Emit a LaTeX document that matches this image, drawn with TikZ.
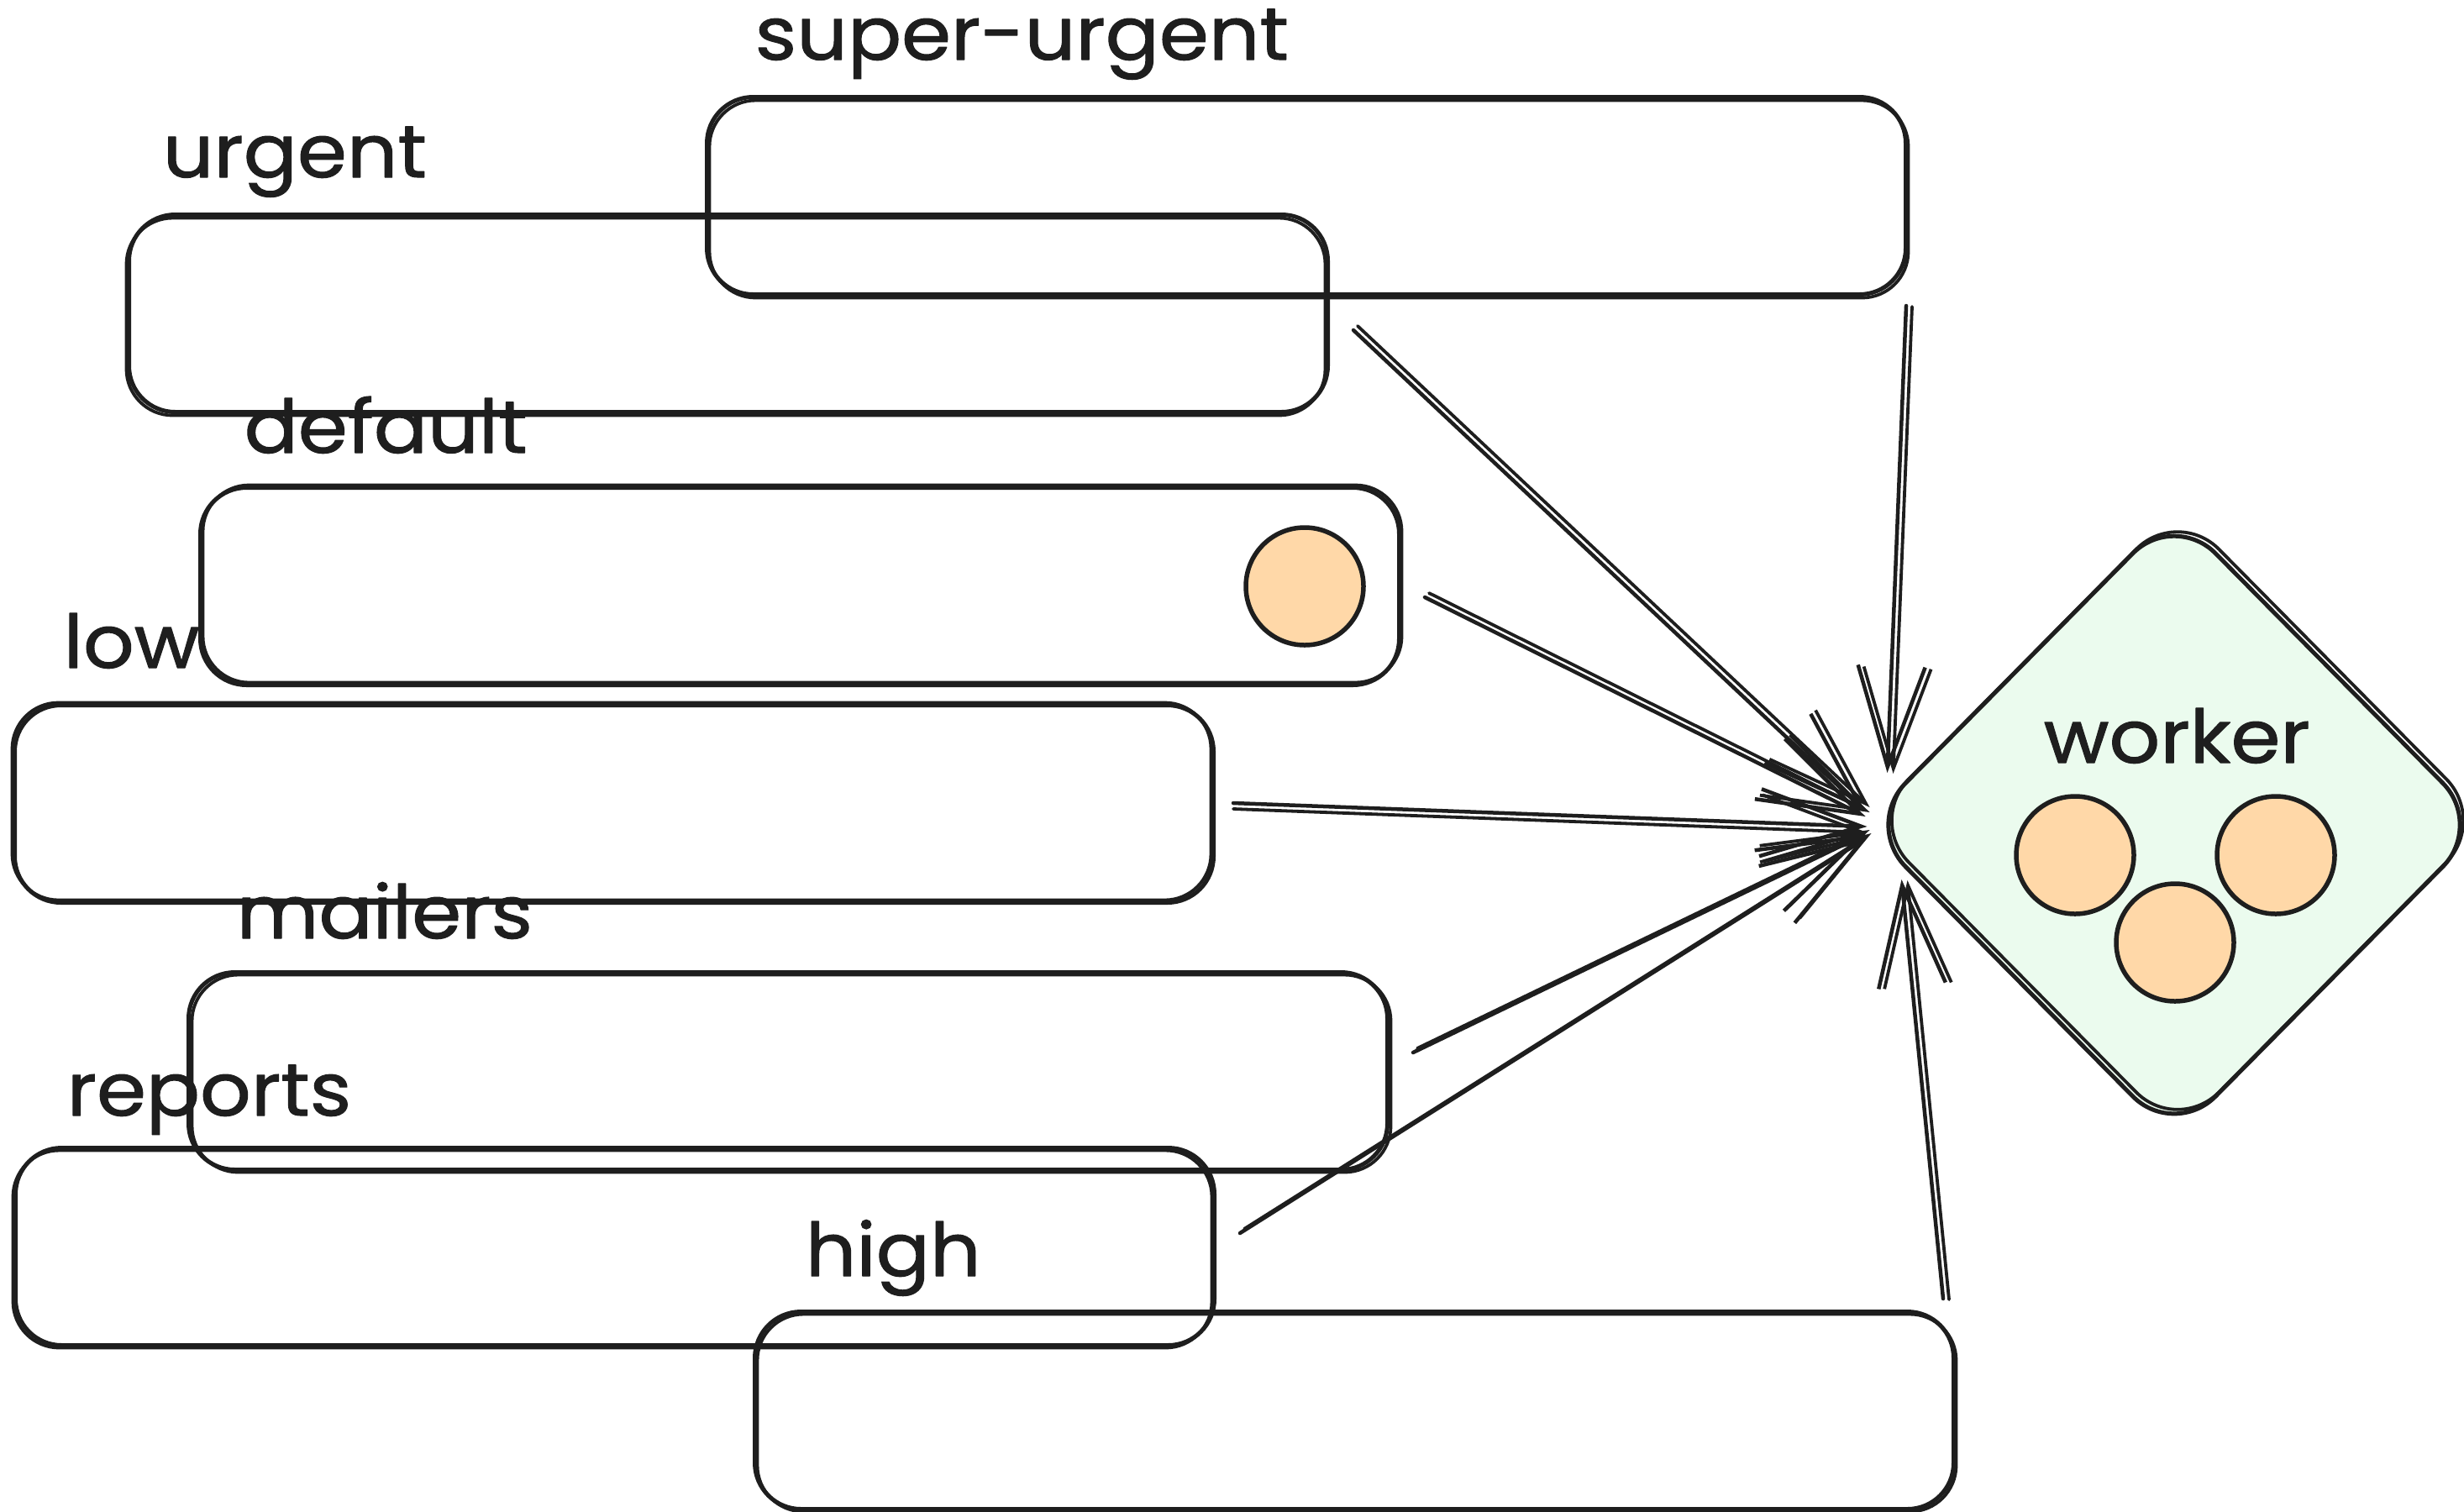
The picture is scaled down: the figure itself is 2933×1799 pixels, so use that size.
\documentclass[tikz,border=0pt]{standalone}
\usepackage{fontspec}
\newfontfamily\handfont{Poppins}[FakeStretch=1.08,FakeBold=1.2]
\usetikzlibrary{arrows.meta,shapes.geometric}
\definecolor{ink}{HTML}{1E1E1E}
\definecolor{mint}{HTML}{EBFBEE}
\definecolor{peach}{HTML}{FFD8A8}
\begin{document}
\begin{tikzpicture}[x=0.1mm,y=-0.1mm,
  line cap=round, line join=round,
  queue/.style={rectangle, draw=ink, line width=0.5mm, rounded corners=5.5mm,
    minimum width=142.7mm, minimum height=23.5mm, inner sep=0pt,
    postaction={draw=ink, line width=0.38mm, transform canvas={shift={(#1)}}}},
  queue/.default={3,4},
  qname/.style={font=\handfont\fontsize{25}{30}\selectfont, text=ink,
    anchor=base west, inner sep=0pt},
  job/.style={circle, draw=ink, fill=peach, line width=0.55mm,
    minimum size=14mm, inner sep=0pt},
  feed/.style={draw=ink, line width=0.45mm,
    -{Straight Barb[length=12mm,width=8mm]},
    postaction={draw=ink, line width=0.38mm, transform canvas={shift={(#1)}}}},
  feed/.default={5,-5},
]
\fill[white] (0,0) rectangle (2933,1799);
\useasboundingbox (0,0) rectangle (2933,1799);

% queues
\node[queue] (su) at (1555,233) {};
\node[queue={-3,4}] (urgent) at (867,373) {};
\node[queue={3,-3}] (default) at (952,698) {};
\node[queue={-3,-3}] (low) at (731,957) {};
\node[queue={4,3}] (mailers) at (938,1275) {};
\node[queue={-3,3}] (reports) at (732,1484) {};
\node[queue={3,3}] (high) at (1612,1679) {};

% queue names
\node[qname] (lsu) at (898,71) {super-urgent};
\node[qname] (lurgent) at (193,211) {urgent};
\node[qname] (ldefault) at (290,539) {default};
\node[qname] (llow) at (75,795) {low};
\node[qname] (lmailers) at (281,1117) {mailers};
\node[qname] (lreports) at (79,1328) {reports};
\node[qname] (lhigh) at (958,1519) {high};

% waiting job
\node[job] (j0) at (1553,698) {};

% worker
\node[diamond, draw=ink, fill=mint, line width=0.5mm, minimum width=74mm,
  minimum height=74.8mm, inner sep=0pt, rounded corners=7mm,
  postaction={draw=ink, line width=0.38mm, transform canvas={shift={(4,-5)}}}]
  (worker) at (2588,982) {};
\node[qname] (lworker) at (2432,908) {worker};
\node[job] (j1) at (2470,1018) {};
\node[job] (j2) at (2709,1018) {};
\node[job] (j3) at (2589,1122) {};

% queues feeding the worker
\draw[feed] ([shift={(28,20)}]urgent.east) -- ([shift={(5,-16)}]worker.west);
\draw[feed={7,1}] ([shift={(-2,11)}]su.south east) -- ([shift={(31,-62)}]worker.west);
\draw[feed] ([shift={(28,13)}]default.east) -- ([shift={(5,-10)}]worker.west);
\draw[feed={0,7}] ([shift={(21,-1)}]low.east) -- ([shift={(7,2)}]worker.west);
\draw[feed] ([shift={(28,-22)}]mailers.east) -- ([shift={(5,11)}]worker.west);
\draw[feed] ([shift={(28,-16)}]reports.east) -- ([shift={(7,15)}]worker.west);
\draw[feed={7,1}] ([shift={(-15,-13)}]high.north east) -- ([shift={(48,65)}]worker.west);
\end{tikzpicture}
\end{document}
